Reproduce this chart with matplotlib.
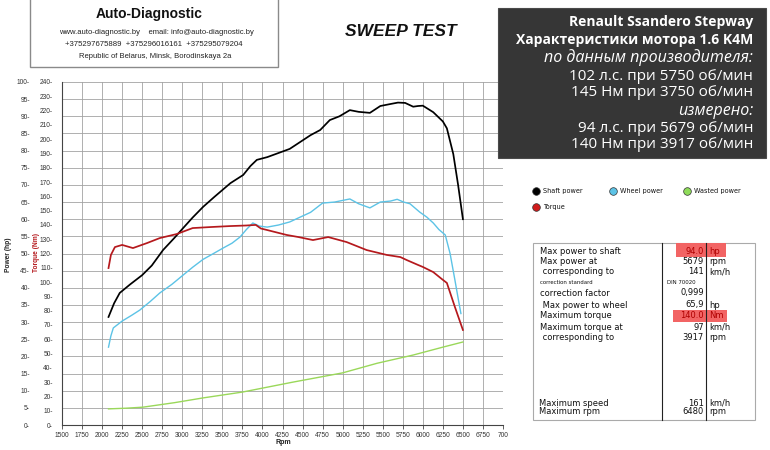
import matplotlib
matplotlib.use("Agg")
import matplotlib.pyplot as plt
from matplotlib.patches import Rectangle

# ---------------- data ----------------
shaft_rpm = [2080, 2150, 2220, 2350, 2500, 2620, 2760, 2900, 3010, 3130, 3260, 3400, 3600, 3760,
             3850, 3930, 4060, 4200, 4340, 4470, 4600, 4720, 4840, 4960, 5090, 5200, 5340, 5470,
             5600, 5690, 5780, 5880, 5940, 6000, 6130, 6250, 6300, 6380, 6440, 6500]
shaft_hp = [31.5, 35.5, 38.5, 41.0, 43.7, 46.5, 51.0, 54.5, 57.4, 60.5, 63.6, 66.5, 70.5, 72.9,
            75.5, 77.3, 78.1, 79.3, 80.5, 82.5, 84.5, 86.0, 88.9, 90.0, 91.8, 91.3, 91.0, 93.0,
            93.6, 94.0, 93.9, 92.8, 93.0, 93.1, 91.2, 88.5, 86.5, 79.0, 70.0, 60.0]

wheel_rpm = [2080, 2110, 2140, 2250, 2370, 2470, 2600, 2720, 2870, 3010, 3130, 3260, 3390, 3510,
             3620, 3720, 3800, 3880, 3960, 4060, 4200, 4340, 4470, 4600, 4750, 4900, 5090, 5200,
             5340, 5470, 5600, 5680, 5760, 5840, 5960, 6050, 6130, 6200, 6280, 6340, 6400, 6440, 6475]
wheel_hp = [22.7, 26.0, 28.3, 30.3, 32.0, 33.5, 36.0, 38.5, 41.0, 43.7, 46.0, 48.3, 50.0, 51.6,
            53.0, 54.8, 57.0, 58.9, 58.0, 57.7, 58.3, 59.2, 60.6, 62.0, 64.7, 65.0, 65.9, 64.5,
            63.3, 65.0, 65.3, 65.8, 65.0, 64.5, 62.1, 60.6, 58.9, 57.0, 55.4, 50.0, 42.3, 37.0, 32.5]

torque_rpm = [2080, 2110, 2160, 2250, 2385, 2560, 2720, 2930, 3130, 3350, 3600, 3800, 3917, 3980,
              4060, 4300, 4450, 4630, 4820, 5050, 5300, 5550, 5720, 5800, 5940, 6000, 6130, 6240,
              6300, 6400, 6500]
torque_nm = [109.8, 119.0, 124.5, 126.0, 123.8, 127.3, 130.8, 133.6, 137.8, 138.5, 139.2, 139.6,
             140.0, 137.5, 136.4, 133.0, 131.5, 129.4, 131.5, 128.0, 122.4, 119.0, 117.5, 115.4,
             112.0, 110.6, 107.0, 102.0, 99.4, 82.6, 66.5]

wasted_rpm = [2080, 2300, 2510, 2900, 3260, 3750, 4380, 5000, 5430, 5880, 6250, 6500]
wasted_hp = [4.7, 4.9, 5.2, 6.5, 7.9, 9.6, 12.5, 15.2, 18.0, 20.4, 22.7, 24.2]

x_ticks = list(range(1500, 7001, 250))
x_tick_labels = [str(v) for v in x_ticks[:-1]] + ["700"]
power_ticks = list(range(0, 101, 5))
torque_ticks = list(range(0, 241, 10))

legend_labels = ["Shaft power", "Wheel power", "Wasted power", "Torque"]

table_left = ["Max power to shaft", "Max power at", " corresponding to", "correction standard",
              "correction factor", " Max power to wheel", "Maximum torque", "Maximum torque at",
              " corresponding to"]
table_vals = ["94.0", "5679", "141", "DIN 70020", "0,999", "65,9", "140.0", "97", "3917"]
table_units = ["hp", "rpm", "km/h", "", "", "hp", "Nm", "km/h", "rpm"]
bottom_left = ["Maximum speed", "Maximum rpm"]
bottom_vals = ["161", "6480"]
bottom_units = ["km/h", "rpm"]

info_lines = ["Renault Ssandero Stepway", "Характеристики мотора 1.6 K4M", "по данным производителя:",
              "102 л.с. при 5750 об/мин", "145 Нм при 3750 об/мин", "измерено:",
              "94 л.с. при 5679 об/мин", "140 Нм при 3917 об/мин"]

# ---------------- figure ----------------
W, H = 770, 450
fig = plt.figure(figsize=(W / 100, H / 100), dpi=100)
fig.patch.set_facecolor("white")

L, R, T, B = 62, 503, 82, 425
ax = fig.add_axes([L / W, 1 - B / H, (R - L) / W, (B - T) / H])
ax.set_xlim(1500, 7000)
ax.set_ylim(0, 100)
ax.set_xticks(x_ticks)
ax.set_xticklabels(x_tick_labels, fontsize=4.8, color="#333333", family="Liberation Sans")
ax.set_yticks(power_ticks)
ax.set_yticklabels([f"{v}-" for v in power_ticks], fontsize=4.8, color="#333333",
                   family="Liberation Sans")
ax.tick_params(axis="y", length=0, pad=23)
ax.tick_params(axis="x", length=3, width=0.6, color="#444444", pad=2)
ax.grid(True, color="#a2a2a2", linewidth=0.6)
ax.set_axisbelow(True)
for s in ["top", "right"]:
    ax.spines[s].set_visible(False)
for s in ["left", "bottom"]:
    ax.spines[s].set_color("#444444")
    ax.spines[s].set_linewidth(0.8)

ax2 = ax.twinx()
ax2.set_ylim(0, 240)
ax2.set_yticks(torque_ticks)
ax2.set_yticklabels([f"{v}-" for v in torque_ticks], fontsize=4.8, color="#333333",
                    family="Liberation Sans")
ax2.yaxis.set_ticks_position("left")
ax2.tick_params(axis="y", length=0, pad=6.5)
for s in ["top", "right", "left", "bottom"]:
    ax2.spines[s].set_visible(False)

ax.plot(wasted_rpm, wasted_hp, color="#9ad85a", lw=1.0, zorder=3)
ax.plot(wheel_rpm, wheel_hp, color="#5cc3e6", lw=1.0, zorder=3)
ax.plot(shaft_rpm, shaft_hp, color="#000000", lw=1.25, zorder=4)
ax2.plot(torque_rpm, torque_nm, color="#b5191d", lw=1.25, zorder=4)

# ---------------- overlay (pixel coordinates) ----------------
ov = fig.add_axes([0, 0, 1, 1], zorder=10)
ov.set_xlim(0, W)
ov.set_ylim(H, 0)
ov.axis("off")
ov.patch.set_visible(False)

ov.text(283, 443, "Rpm", fontsize=5, fontweight="bold", ha="center", va="center",
        family="Liberation Sans", color="#222222")
ov.text(8, 255, "Power (hp)", fontsize=4.8, fontweight="bold", rotation=90, ha="center",
        va="center", family="Liberation Sans", color="#222222")
ov.text(37, 252, "Torque (Nm)", fontsize=4.8, fontweight="bold", rotation=90, ha="center",
        va="center", family="Liberation Sans", color="#b5191d")

# header box
ov.add_patch(Rectangle((30, -2), 248, 69, facecolor="white", edgecolor="#8a8a8a", lw=1.0))
ov.text(149, 14, "Auto-Diagnostic", fontsize=10, fontweight="bold", ha="center", va="center",
        family="Liberation Sans", color="#111111")
ov.text(156, 32, "www.auto-diagnostic.by    email: info@auto-diagnostic.by", fontsize=5.5,
        ha="center", va="center", family="Liberation Sans", color="#222222")
ov.text(154, 44, "+375297675889  +375296016161  +375295079204", fontsize=5.6,
        ha="center", va="center", family="Liberation Sans", color="#222222")
ov.text(155, 56, "Republic of Belarus, Minsk, Borodinskaya 2a", fontsize=5.5,
        ha="center", va="center", family="Liberation Sans", color="#222222")

ov.text(401, 32, "SWEEP TEST", fontsize=12.5, fontweight="bold", style="italic", ha="center",
        va="center", family="Liberation Sans", color="#111111")

# dark info box
ov.add_patch(Rectangle((498, 8), 268, 150, facecolor="#363636", edgecolor="#4a4a4a", lw=0.8))
ys = [22, 40, 58, 76, 93, 111, 128, 145]
fam = ["Open Sans", "DejaVu Sans"]
for i, (txt, y) in enumerate(zip(info_lines, ys)):
    kw = dict(fontsize=11, color="white", ha="right", va="center", family=fam)
    if i < 2:
        kw.update(fontweight="bold", fontsize=10)
    if i in (2, 5):
        kw.update(style="italic", fontsize=11.5)
    ov.text(753, y, txt, **kw)

# legend
leg_pos = [(536, 191), (613, 191), (687, 191), (536, 207)]
leg_colors = ["#000000", "#5cc3e6", "#8fdc5a", "#d01c1c"]
for (x, y), lab, c in zip(leg_pos, legend_labels, leg_colors):
    ov.plot([x], [y], marker="o", ms=5.5, mfc=c, mec="#333333", mew=0.5)
    ov.text(x + 7, y, lab, fontsize=4.7, ha="left", va="center", family="DejaVu Sans",
            color="#111111")

# table
ov.add_patch(Rectangle((533, 243), 222, 177, facecolor="white", edgecolor="#aaaaaa", lw=0.8))
ov.plot([662, 662], [243, 420], color="#222222", lw=0.8)
ov.plot([706, 706], [243, 420], color="#222222", lw=0.8)
ov.add_patch(Rectangle((676, 243), 50, 14, facecolor="#f26464", edgecolor="none"))
ov.add_patch(Rectangle((673, 310), 54, 12, facecolor="#f26464", edgecolor="none"))
row_y = [251, 262, 272, 283, 293, 305, 316, 327, 337]
fs = 6.0
for i, y in enumerate(row_y):
    small = table_left[i] == "correction standard"
    ov.text(540, y, table_left[i], fontsize=3.9 if small else fs, ha="left", va="center",
            family="DejaVu Sans", color="#111111")
    hl = i in (0, 6)
    col = "#b00000" if hl else "#111111"
    if table_vals[i] == "DIN 70020":
        ov.text(667, y, table_vals[i], fontsize=3.9, ha="left", va="center",
                family="DejaVu Sans", color="#111111")
    else:
        ov.text(704, y, table_vals[i], fontsize=fs, ha="right", va="center",
                family="DejaVu Sans", color=col)
    ov.text(709, y, table_units[i], fontsize=fs, ha="left", va="center",
            family="DejaVu Sans", color=col)
for y, a, b, c in zip([403, 412], bottom_left, bottom_vals, bottom_units):
    ov.text(539, y, a, fontsize=fs, ha="left", va="center", family="DejaVu Sans", color="#111111")
    ov.text(704, y, b, fontsize=fs, ha="right", va="center", family="DejaVu Sans", color="#111111")
    ov.text(709, y, c, fontsize=fs, ha="left", va="center", family="DejaVu Sans", color="#111111")

fig.savefig("out.png", dpi=100)
